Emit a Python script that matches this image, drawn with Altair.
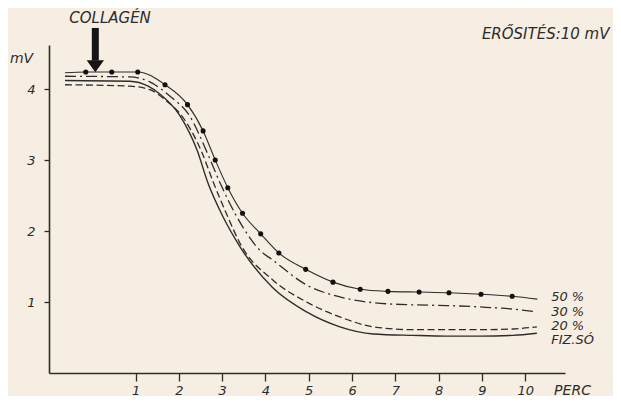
import altair as alt
import pandas as pd

# 50 % series (solid thin line with dots)
x50 = [-0.63, -0.15, 0.45, 1.05, 1.68, 2.20, 2.56, 2.84, 3.13, 3.47, 3.89, 4.31, 4.93, 5.56, 6.19, 6.83, 7.55, 8.24, 8.98, 9.70, 10.28]
y50 = [4.23, 4.24, 4.24, 4.24, 4.06, 3.78, 3.41, 3.00, 2.61, 2.25, 1.96, 1.69, 1.46, 1.28, 1.18, 1.15, 1.14, 1.13, 1.11, 1.08, 1.04]
dot50 = [0, 1, 1, 1, 1, 1, 1, 1, 1, 1, 1, 1, 1, 1, 1, 1, 1, 1, 1, 1, 0]

# 30 % series (dash-dot)
x30 = [-0.63, 0.87, 1.33, 1.79, 2.26, 2.65, 2.95, 3.34, 3.87, 4.17, 4.95, 5.73, 6.49, 7.41, 8.19, 8.96, 9.72, 10.27]
y30 = [4.18, 4.17, 4.10, 3.90, 3.61, 3.11, 2.68, 2.20, 1.73, 1.59, 1.24, 1.07, 0.99, 0.96, 0.95, 0.93, 0.90, 0.86]

# 20 % series (dashed)
x20 = [-0.63, 0.87, 1.33, 1.68, 2.14, 2.53, 2.80, 3.13, 3.41, 4.17, 4.95, 5.72, 6.49, 7.41, 8.19, 8.96, 9.72, 10.27]
y20 = [4.06, 4.04, 3.99, 3.85, 3.56, 3.11, 2.68, 2.20, 1.83, 1.31, 1.00, 0.79, 0.65, 0.61, 0.61, 0.61, 0.62, 0.65]

# FIZ.SÓ series (solid)
xfiz = [-0.63, 0.87, 1.29, 1.56, 2.02, 2.42, 2.67, 3.02, 3.41, 4.17, 4.95, 5.72, 6.49, 7.41, 8.19, 8.96, 9.72, 10.27]
yfiz = [4.12, 4.11, 4.04, 3.93, 3.63, 3.14, 2.68, 2.20, 1.78, 1.20, 0.86, 0.65, 0.55, 0.53, 0.52, 0.52, 0.53, 0.56]

series_names = ["50 %", "30 %", "20 %", "FIZ.SÓ"]
label_y = [1.07, 0.86, 0.66, 0.46]
label_x = [10.6, 10.6, 10.6, 10.6]

x_ticks = [1, 2, 3, 4, 5, 6, 7, 8, 9, 10]
y_ticks = [1, 2, 3, 4]

INK = "#2e2c2a"
BG = "#f6eee3"
FONT = "DejaVu Sans"

xs = alt.Scale(domain=[-1, 10.92], nice=False, zero=False)
ys = alt.Scale(domain=[0, 4.62], nice=False, zero=False)

d50 = pd.DataFrame({"x": x50, "y": y50, "dot": dot50})
d30 = pd.DataFrame({"x": x30, "y": y30})
d20 = pd.DataFrame({"x": x20, "y": y20})
dfz = pd.DataFrame({"x": xfiz, "y": yfiz})

xenc = alt.X("x:Q", scale=xs, axis=alt.Axis(
    values=x_ticks, format="d", title="PERC", titleX=523, titleY=17, titleAlign="center",
    titleBaseline="middle", titleFont=FONT, titleFontSize=14, titleFontStyle="italic",
    titleFontWeight="normal", titleColor=INK, labelFont=FONT, labelFontSize=13,
    labelFontStyle="italic", labelColor=INK, tickSize=8, tickColor=INK, tickWidth=1.3,
    domainColor=INK, domainWidth=1.6, labelPadding=3, grid=False))
yenc = alt.Y("y:Q", scale=ys, axis=alt.Axis(
    values=y_ticks, format="d", title="mV", titleAngle=0, titleX=-28, titleY=13, titleAlign="center",
    titleBaseline="middle", titleFont=FONT, titleFontSize=14, titleFontStyle="italic",
    titleFontWeight="normal", titleColor=INK, labelFont=FONT, labelFontSize=13,
    labelFontStyle="italic", labelColor=INK, tickSize=5, tickColor=INK, tickWidth=1.3,
    domainColor=INK, domainWidth=1.6, labelPadding=9, grid=False))

base_line = dict(color=INK, interpolate="monotone")

l50 = alt.Chart(d50).mark_line(strokeWidth=1.1, **base_line).encode(x=xenc, y=yenc)
p50 = alt.Chart(d50).transform_filter("datum.dot == 1").mark_point(
    filled=True, size=26, color="#111111", opacity=1).encode(x=alt.X("x:Q", scale=xs), y=alt.Y("y:Q", scale=ys))
l30 = alt.Chart(d30).mark_line(strokeWidth=1.3, strokeDash=[11, 4, 2, 4], **base_line).encode(
    x=alt.X("x:Q", scale=xs), y=alt.Y("y:Q", scale=ys))
l20 = alt.Chart(d20).mark_line(strokeWidth=1.3, strokeDash=[7, 3.5], **base_line).encode(
    x=alt.X("x:Q", scale=xs), y=alt.Y("y:Q", scale=ys))
lfz = alt.Chart(dfz).mark_line(strokeWidth=1.4, **base_line).encode(
    x=alt.X("x:Q", scale=xs), y=alt.Y("y:Q", scale=ys))

labels = alt.Chart(pd.DataFrame({"x": label_x, "y": label_y, "t": series_names})).mark_text(
    align="left", baseline="middle", font=FONT, fontSize=13, fontStyle="italic", color=INK
).encode(x=alt.X("x:Q", scale=xs), y=alt.Y("y:Q", scale=ys), text="t:N")

# annotations
coll = alt.Chart(pd.DataFrame({"x": [0.41], "y": [5.0], "t": ["COLLAGÉN"]})).mark_text(
    align="center", baseline="middle", font=FONT, fontSize=15, fontStyle="italic", color=INK
).encode(x=alt.X("x:Q", scale=xs), y=alt.Y("y:Q", scale=ys), text="t:N")
gain = alt.Chart(pd.DataFrame({"x": [9.0], "y": [4.77], "t": ["ERŐSITÉS:10 mV"]})).mark_text(
    align="left", baseline="middle", font=FONT, fontSize=15, fontStyle="italic", color=INK
).encode(x=alt.X("x:Q", scale=xs), y=alt.Y("y:Q", scale=ys), text="t:N")
shaft = alt.Chart(pd.DataFrame({"x": [0.07], "y": [4.86], "y2": [4.40]})).mark_rule(
    strokeWidth=7, color="#151515").encode(x=alt.X("x:Q", scale=xs), y=alt.Y("y:Q", scale=ys), y2="y2:Q")
head = alt.Chart(pd.DataFrame({"x": [0.07], "y": [4.32]})).mark_point(
    shape="M-1,-0.7L1,-0.7L0,0.7Z", filled=True, size=300, color="#151515", opacity=1, strokeWidth=0
).encode(x=alt.X("x:Q", scale=xs), y=alt.Y("y:Q", scale=ys))

chart = alt.layer(lfz, l20, l30, l50, p50, labels, coll, gain, shaft, head).properties(
    width=516, height=328, autosize="none",
    padding={"left": 41, "top": 37, "right": 48, "bottom": 23},
    background=BG,
).configure_view(stroke=None)

chart.save("out.html", embed_options={"renderer": "svg", "actions": False})
